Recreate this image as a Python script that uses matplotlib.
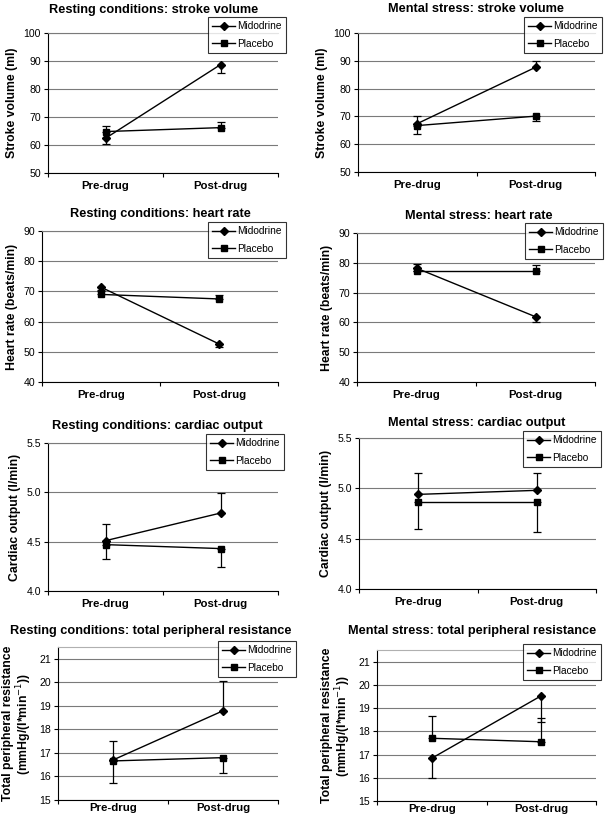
import numpy as np
import matplotlib.pyplot as plt

plt.rcParams['font.family'] = ['Liberation Sans', 'DejaVu Sans']

# ---------------------------------------------------------------- data
categories = ['Pre-drug', 'Post-drug']
series_names = ['Midodrine', 'Placebo']

titles = ['Resting conditions: stroke volume', 'Mental stress: stroke volume',
          'Resting conditions: heart rate', 'Mental stress: heart rate',
          'Resting conditions: cardiac output', 'Mental stress: cardiac output',
          'Resting conditions: total peripheral resistance',
          'Mental stress: total peripheral resistance']

ylabels = ['Stroke volume (ml)', 'Stroke volume (ml)',
           'Heart rate (beats/min)', 'Heart rate (beats/min)',
           'Cardiac output (l/min)', 'Cardiac output (l/min)',
           'Total peripheral resistance\n(mmHg/(l*min$^{-1}$))',
           'Total peripheral resistance\n(mmHg/(l*min$^{-1}$))']

# means and SEM for each panel (midodrine, placebo)
sv_rest_mido = [62.4, 88.7]
sv_rest_mido_err = [1.9, 2.9]
sv_rest_plac = [64.8, 66.2]
sv_rest_plac_err = [2.0, 2.0]

sv_ms_mido = [67.4, 87.7]
sv_ms_mido_err = [2.6, 2.1]
sv_ms_plac = [66.7, 70.1]
sv_ms_plac_err = [3.2, 1.9]

hr_rest_mido = [71.4, 52.6]
hr_rest_mido_err = [1.0, 1.1]
hr_rest_plac = [69.0, 67.5]
hr_rest_plac_err = [1.0, 1.3]

hr_ms_mido = [78.2, 61.9]
hr_ms_mido_err = [1.0, 1.7]
hr_ms_plac = [77.1, 77.1]
hr_ms_plac_err = [2.5, 2.1]

co_rest_mido = [4.51, 4.79]
co_rest_mido_err = [0.17, 0.20]
co_rest_plac = [4.47, 4.43]
co_rest_plac_err = [0.15, 0.19]

co_ms_mido = [4.94, 4.98]
co_ms_mido_err = [0.21, 0.17]
co_ms_plac = [4.86, 4.86]
co_ms_plac_err = [0.26, 0.29]

tpr_rest_mido = [16.70, 18.79]
tpr_rest_mido_err = [0.81, 1.25]
tpr_rest_plac = [16.66, 16.80]
tpr_rest_plac_err = [0.92, 0.64]

tpr_ms_mido = [16.84, 19.53]
tpr_ms_mido_err = [0.86, 1.13]
tpr_ms_plac = [17.70, 17.55]
tpr_ms_plac_err = [0.96, 1.01]

# which half of the error bar is shown (Excel style one-sided bars)
mido_side = ['minus', 'plus', 'minus', 'minus', 'plus', 'plus', 'plus', 'minus']

ylims = [(50, 100), (50, 100), (40, 90), (40, 90),
         (4.0, 5.5), (4.0, 5.5), (15, 21.5), (15, 21.5)]
ysteps = [10, 10, 10, 10, 0.5, 0.5, 1, 1]

# ---------------------------------------------------------------- layout (pixels)
W, H = 605, 818
axes_px = [(48, 278, 33, 173), (358, 595, 33, 172),
           (42, 278, 231, 382), (357, 595, 233, 382),
           (48, 278, 443, 591), (359, 596, 438, 589),
           (58, 278, 647, 800), (377, 596, 650, 801)]
title_px = [(154, 10), (476, 9), (160, 214), (479, 216),
            (157, 426), (477, 423), (151, 631), (472, 631)]
legend_px = [(208, 17), (524, 17), (208, 222), (525, 223),
             (206, 434), (523, 431), (218, 641), (523, 644)]
xlabel_pad = [6, 6, 6, 6, 6, 6, 2, 2]

panels = [
    (sv_rest_mido, sv_rest_mido_err, sv_rest_plac, sv_rest_plac_err),
    (sv_ms_mido, sv_ms_mido_err, sv_ms_plac, sv_ms_plac_err),
    (hr_rest_mido, hr_rest_mido_err, hr_rest_plac, hr_rest_plac_err),
    (hr_ms_mido, hr_ms_mido_err, hr_ms_plac, hr_ms_plac_err),
    (co_rest_mido, co_rest_mido_err, co_rest_plac, co_rest_plac_err),
    (co_ms_mido, co_ms_mido_err, co_ms_plac, co_ms_plac_err),
    (tpr_rest_mido, tpr_rest_mido_err, tpr_rest_plac, tpr_rest_plac_err),
    (tpr_ms_mido, tpr_ms_mido_err, tpr_ms_plac, tpr_ms_plac_err),
]

fig = plt.figure(figsize=(W / 100, H / 100), dpi=100)
x = np.arange(len(categories)) + 0.5
gridc = '#7a7a7a'

for i, (m, me, p, pe) in enumerate(panels):
    l, r, t, b = axes_px[i]
    ax = fig.add_axes([l / W, 1 - b / H, (r - l) / W, (b - t) / H])

    me = np.array(me)
    pe = np.array(pe)
    zero = np.zeros_like(me)
    if mido_side[i] == 'minus':
        m_err = [me, zero]
        p_err = [zero, pe]
    else:
        m_err = [zero, me]
        p_err = [pe, zero]

    ax.errorbar(x, m, yerr=m_err, fmt='none', ecolor='black', elinewidth=0.9,
                capsize=3, capthick=0.9, zorder=3)
    ax.errorbar(x, p, yerr=p_err, fmt='none', ecolor='black', elinewidth=0.9,
                capsize=3, capthick=0.9, zorder=3)
    ax.plot(x, m, color='black', lw=1.0, marker='D', ms=4.2,
            label=series_names[0], zorder=4)
    ax.plot(x, p, color='black', lw=1.0, marker='s', ms=4.6,
            label=series_names[1], zorder=4)

    y0, y1 = ylims[i]
    ax.set_ylim(y0, y1)
    yt = np.arange(y0, y1 + 1e-9, ysteps[i])
    ax.set_yticks(yt)
    if ysteps[i] < 1:
        ax.set_yticklabels(['%.1f' % v for v in yt])
    ax.yaxis.grid(True, color=gridc, lw=0.8)
    ax.set_axisbelow(True)

    ax.set_xlim(0, len(categories))
    ax.set_xticks(np.arange(len(categories) + 1))
    ax.set_xticklabels([])
    ax.set_xticks(x, minor=True)
    ax.set_xticklabels(categories, minor=True, fontweight='bold', fontsize=8.2)
    ax.tick_params(axis='x', which='minor', length=0, pad=xlabel_pad[i])
    ax.tick_params(axis='x', which='major', length=3, width=0.8, direction='out')
    ax.tick_params(axis='y', length=3, width=0.8, labelsize=7.6, pad=2)

    ax.spines['right'].set_visible(False)
    if y1 % ysteps[i] == 0:
        ax.spines['top'].set_color(gridc)
    else:
        ax.spines['top'].set_color('#b0b0b0')
    ax.spines['top'].set_linewidth(0.8)
    ax.spines['left'].set_linewidth(0.8)
    ax.spines['bottom'].set_linewidth(0.8)

    ax.set_ylabel(ylabels[i], fontweight='bold', fontsize=8.8, labelpad=4,
                  linespacing=1.0)

    tx, ty = title_px[i]
    fig.text(tx / W, 1 - ty / H, titles[i], ha='center', va='center',
             fontweight='bold', fontsize=9.2)

    lx, ly = legend_px[i]
    leg = ax.legend(loc='upper left', bbox_to_anchor=(lx / W, 1 - ly / H),
                    bbox_transform=fig.transFigure, borderaxespad=0,
                    fontsize=7.3, frameon=True, fancybox=False,
                    handlelength=2.3, handletextpad=0.2, borderpad=0.4,
                    labelspacing=0.75)
    leg.get_frame().set_edgecolor('black')
    leg.get_frame().set_linewidth(0.8)
    leg.set_zorder(10)

fig.savefig('out.png', dpi=100)
